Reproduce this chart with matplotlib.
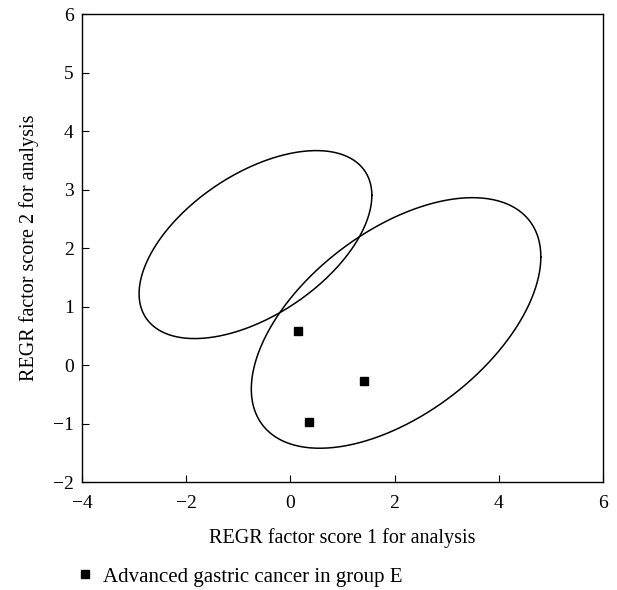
import numpy as np
import matplotlib.pyplot as plt

plt.rcParams['font.family'] = ['Liberation Serif', 'DejaVu Serif']

# factor scores for the advanced gastric cancer cases in group E
score1 = [0.15, 1.42, 0.36]
score2 = [0.58, -0.27, -0.97]

# group ellipses: centre (x, y), x half-extent, and y components (cos, sin)
ell_cx = [-0.67, 2.03]
ell_cy = [2.06, 0.72]
ell_a = [2.235, 2.78]
ell_b = [0.84, 1.13]
ell_c = [1.37, 1.82]

xticks = [-4, -2, 0, 2, 4, 6]
yticks = [-2, -1, 0, 1, 2, 3, 4, 5, 6]

fig = plt.figure(figsize=(6.17, 5.90), dpi=100)
ax = fig.add_axes([0.133, 0.183, 0.844, 0.793])

t = np.linspace(0, 2 * np.pi, 400)
for cx, cy, a, b, c in zip(ell_cx, ell_cy, ell_a, ell_b, ell_c):
    ax.plot(cx + a * np.cos(t), cy + b * np.cos(t) + c * np.sin(t),
            color='black', lw=1.1)

ax.plot(score1, score2, 's', color='black', ms=6, ls='none',
        label='Advanced gastric cancer in group E')

ax.set_xlim(-4, 6)
ax.set_ylim(-2, 6)
ax.set_xticks(xticks)
ax.set_yticks(yticks)
ax.set_xticklabels([f'{v}'.replace('-', '\u2212') for v in xticks])
ax.set_yticklabels([f'{v}'.replace('-', '\u2212') for v in yticks])
ax.tick_params(direction='in', length=5, labelsize=14)
ax.tick_params(axis='x', pad=9)
ax.tick_params(axis='y', pad=6)
for s in ax.spines.values():
    s.set_linewidth(1.0)

ax.set_xlabel('REGR factor score 1 for analysis', fontsize=14.5, labelpad=12)
ax.set_ylabel('REGR factor score 2 for analysis', fontsize=14.5, labelpad=10)

fig.legend(loc='lower left', bbox_to_anchor=(0.09, -0.026), frameon=False,
           fontsize=15, handlelength=1.0, handletextpad=0.4, markerscale=0.9)

fig.savefig('out.png', dpi=100)
